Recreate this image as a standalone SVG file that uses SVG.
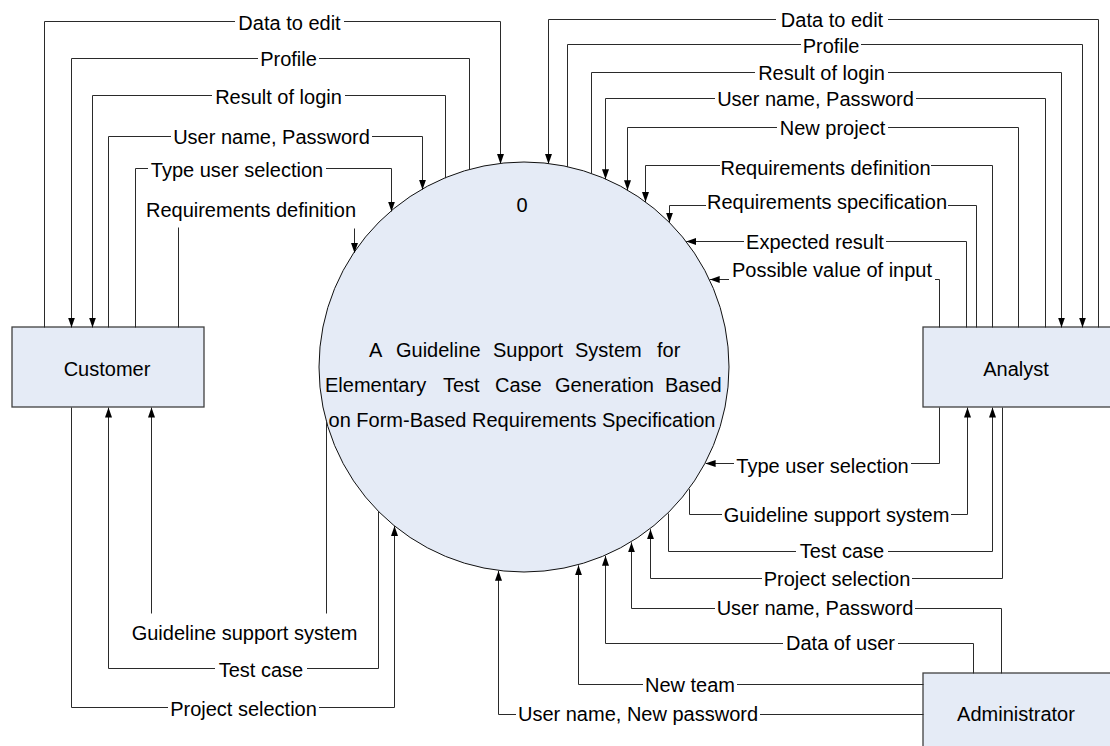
<svg xmlns="http://www.w3.org/2000/svg" width="1110" height="746" viewBox="0 0 1110 746">
  <defs>
    <marker id="arrow" viewBox="0 0 10 7" refX="10" refY="3.5" markerWidth="10" markerHeight="7" markerUnits="userSpaceOnUse" orient="auto">
      <path d="M0,0 L10,3.5 L0,7 Z" fill="#000"/>
    </marker>
    <style>
      .entity { fill: #e5ebf6; stroke: #404040; stroke-width: 1.3; }
      .process { fill: #e5ebf6; stroke: #111; stroke-width: 1; }
      .flow { fill: none; stroke: #2a2a2a; stroke-width: 1; }
      .arr { marker-end: url(#arrow); }
      .lbl { font-family: "Liberation Sans", Arial, sans-serif; font-size: 20px; fill: #000; text-anchor: middle; }
      .word { font-family: "Liberation Sans", Arial, sans-serif; font-size: 20px; fill: #000; }
      .gap { fill: #fff; }
    </style>
  </defs>

  <rect width="1110" height="746" fill="#fff"/>

  <!-- process 0 -->
  <g id="process-0">
    <circle class="process" cx="524" cy="367" r="205"/>
    <text class="lbl" x="522" y="212">0</text>
    <text class="word" y="357"><tspan x="369">A</tspan><tspan x="396">Guideline</tspan><tspan x="493">Support</tspan><tspan x="575">System</tspan><tspan x="657">for</tspan></text>
    <text class="word" y="392"><tspan x="325">Elementary</tspan><tspan x="443">Test</tspan><tspan x="495">Case</tspan><tspan x="555">Generation</tspan><tspan x="665">Based</tspan></text>
    <text class="lbl" x="522" y="427">on Form-Based Requirements Specification</text>
  </g>

  <!-- external entities -->
  <g id="customer">
    <rect class="entity" x="12" y="327" width="192" height="80"/>
    <text class="lbl" x="107" y="376">Customer</text>
  </g>
  <g id="analyst">
    <rect class="entity" x="923" y="327" width="190" height="80"/>
    <text class="lbl" x="1016" y="376">Analyst</text>
  </g>
  <g id="administrator">
    <rect class="entity" x="923" y="673" width="190" height="82"/>
    <text class="lbl" x="1016" y="721">Administrator</text>
  </g>

  <!-- data flows -->
  <g id="connectors" transform="translate(0.5,0.5)">
    <!-- customer side, top -->
    <path class="flow arr" d="M44,327 V21 H500 V163.4"/>
    <path class="flow arr" d="M469,169.5 V58 H71 V327"/>
    <path class="flow arr" d="M445,177.8 V95 H92 V327"/>
    <path class="flow arr" d="M108,327 V136 H422 V189.2"/>
    <path class="flow arr" d="M135,327 V168 H391 V211"/>
    <path class="flow" d="M178,327 V227"/>
    <path class="flow arr" d="M354,228 V252.4"/>

    <!-- analyst side, top -->
    <path class="flow arr" d="M1098,327 V19 H548 V163.4"/>
    <path class="flow arr" d="M567,166.6 V44 H1082 V327"/>
    <path class="flow arr" d="M591,173.3 V72 H1061 V327"/>
    <path class="flow arr" d="M1045,327 V98 H605 V178.7"/>
    <path class="flow arr" d="M1018,327 V127 H627 V189.8"/>
    <path class="flow arr" d="M992,327 V165 H645 V201.5"/>
    <path class="flow arr" d="M976,327 V205 H669 V222.1"/>
    <path class="flow arr" d="M966,327 V241 H685.7"/>
    <path class="flow arr" d="M939,327 V279 H709.2"/>

    <!-- analyst side, bottom -->
    <path class="flow arr" d="M939,407 V463 H705.1"/>
    <path class="flow arr" d="M689,488.7 V514 H967 V407"/>
    <path class="flow arr" d="M668,513 V551 H992 V407"/>
    <path class="flow arr" d="M1002,407 V578 H650 V528.7"/>

    <!-- administrator -->
    <path class="flow arr" d="M1001,673 V608 H631 V541.9"/>
    <path class="flow arr" d="M973,673 V643 H605 V555.3"/>
    <path class="flow arr" d="M923,684 H578 V564.8"/>
    <path class="flow arr" d="M923,714 H498 V570.3"/>

    <!-- customer side, bottom -->
    <path class="flow" d="M326,420 V613"/>
    <path class="flow arr" d="M151,613 V407"/>
    <path class="flow arr" d="M378,511 V668 H108 V407"/>
    <path class="flow arr" d="M71,407 V707 H394 V525.5"/>
  </g>

  <!-- flow labels -->
  <g id="labels">
    <rect class="gap" x="235" y="13" width="109" height="16"/><text class="lbl" x="289.5" y="30">Data to edit</text>
    <rect class="gap" x="258" y="50" width="61" height="16"/><text class="lbl" x="288.5" y="66">Profile</text>
    <rect class="gap" x="212" y="87" width="133" height="16"/><text class="lbl" x="278.5" y="104">Result of login</text>
    <rect class="gap" x="171" y="128" width="201" height="16"/><text class="lbl" x="271.5" y="144">User name, Password</text>
    <rect class="gap" x="148" y="160" width="178" height="16"/><text class="lbl" x="237" y="177">Type user selection</text>
    <text class="lbl" x="251" y="217">Requirements definition</text>

    <rect class="gap" x="776" y="11" width="112" height="16"/><text class="lbl" x="832" y="27">Data to edit</text>
    <rect class="gap" x="801" y="36" width="60" height="16"/><text class="lbl" x="831" y="53">Profile</text>
    <rect class="gap" x="755" y="64" width="133" height="16"/><text class="lbl" x="821.5" y="80">Result of login</text>
    <rect class="gap" x="715" y="90" width="201" height="16"/><text class="lbl" x="815.5" y="106">User name, Password</text>
    <rect class="gap" x="777" y="119" width="111" height="16"/><text class="lbl" x="832.5" y="135">New project</text>
    <rect class="gap" x="720" y="157" width="211" height="16"/><text class="lbl" x="825.5" y="175">Requirements definition</text>
    <rect class="gap" x="706" y="197" width="242" height="16"/><text class="lbl" x="827" y="209">Requirements specification</text>
    <rect class="gap" x="744" y="233" width="142" height="16"/><text class="lbl" x="815" y="249">Expected result</text>
    <rect class="gap" x="729" y="271" width="206" height="16"/><text class="lbl" x="832" y="277">Possible value of input</text>

    <rect class="gap" x="734" y="455" width="177" height="16"/><text class="lbl" x="822.5" y="473">Type user selection</text>
    <rect class="gap" x="722" y="506" width="229" height="16"/><text class="lbl" x="836.5" y="522">Guideline support system</text>
    <rect class="gap" x="796" y="543" width="92" height="16"/><text class="lbl" x="842" y="558">Test case</text>
    <rect class="gap" x="762" y="570" width="150" height="16"/><text class="lbl" x="837" y="586">Project selection</text>

    <rect class="gap" x="715" y="600" width="200" height="16"/><text class="lbl" x="815" y="615">User name, Password</text>
    <rect class="gap" x="783" y="635" width="115" height="16"/><text class="lbl" x="840.5" y="650">Data of user</text>
    <rect class="gap" x="643" y="676" width="94" height="16"/><text class="lbl" x="690" y="692">New team</text>
    <rect class="gap" x="516" y="706" width="244" height="16"/><text class="lbl" x="638" y="721">User name, New password</text>

    <text class="lbl" x="244.5" y="640">Guideline support system</text>
    <rect class="gap" x="215" y="660" width="92" height="16"/><text class="lbl" x="261" y="677">Test case</text>
    <rect class="gap" x="168" y="699" width="151" height="16"/><text class="lbl" x="243.5" y="716">Project selection</text>
  </g>
</svg>
